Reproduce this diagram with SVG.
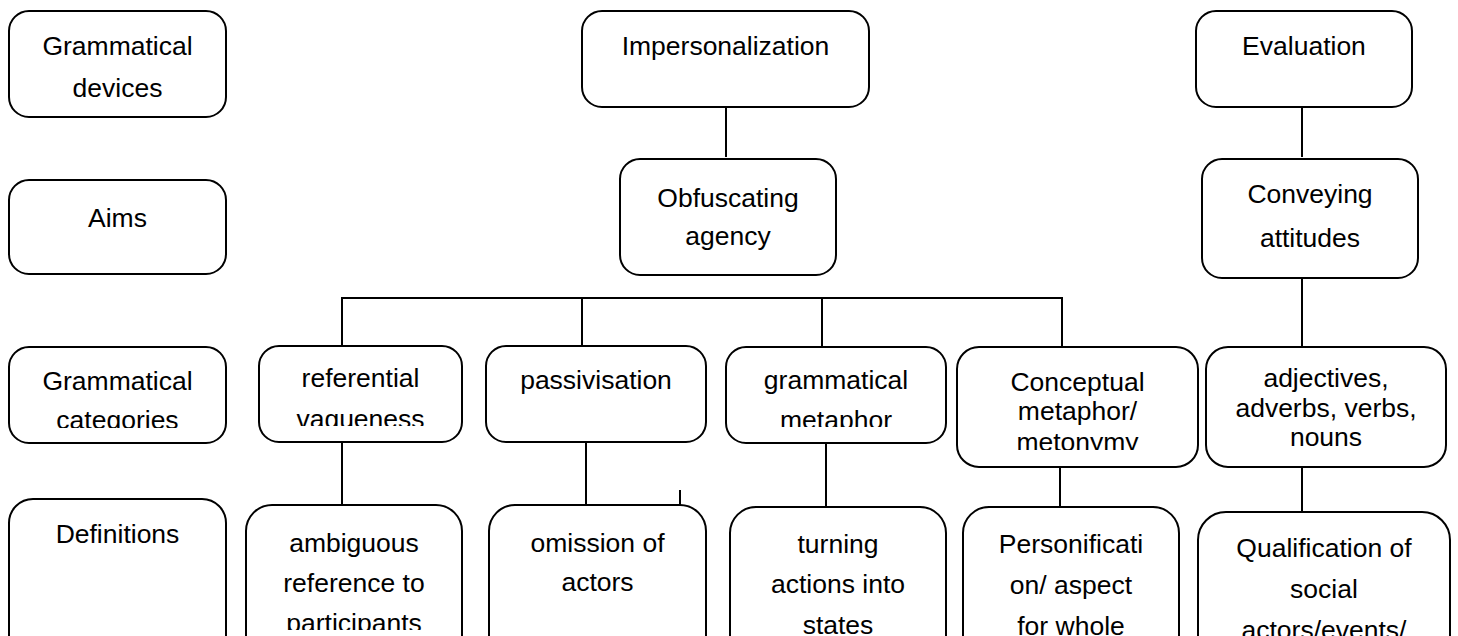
<svg xmlns="http://www.w3.org/2000/svg" width="1458" height="636" viewBox="0 0 1458 636">
<style>
.box{fill:#fff;stroke:#000;stroke-width:2}
.t{font-family:"Liberation Sans",Arial,sans-serif;font-size:26.5px;fill:#000;text-anchor:middle}
.c line{stroke:#000;stroke-width:2}
</style>
<defs>
<clipPath id="cp-cat" clipPathUnits="userSpaceOnUse"><rect x="9" y="347" width="217" height="81"/></clipPath>
<clipPath id="cp-ref" clipPathUnits="userSpaceOnUse"><rect x="259" y="346" width="203" height="80"/></clipPath>
<clipPath id="cp-gm" clipPathUnits="userSpaceOnUse"><rect x="726" y="347" width="220" height="80"/></clipPath>
<clipPath id="cp-con" clipPathUnits="userSpaceOnUse"><rect x="957" y="347" width="241" height="103"/></clipPath>
<clipPath id="cp-amb" clipPathUnits="userSpaceOnUse"><rect x="246" y="505" width="216" height="125"/></clipPath>
</defs>
<rect width="1458" height="636" fill="#fff"/>

<g id="connectors" class="c">
<line x1="726" y1="107" x2="726" y2="157"/>
<line x1="1302" y1="107" x2="1302" y2="157"/>
<line x1="1302" y1="276" x2="1302" y2="347"/>
<line x1="341" y1="298" x2="1063" y2="298"/>
<line x1="342" y1="298" x2="342" y2="346"/>
<line x1="582" y1="298" x2="582" y2="346"/>
<line x1="822" y1="298" x2="822" y2="347"/>
<line x1="1062" y1="298" x2="1062" y2="347"/>
<line x1="342" y1="442" x2="342" y2="505"/>
<line x1="586" y1="442" x2="586" y2="505"/>
<line x1="680" y1="490" x2="680" y2="505"/>
<line x1="826" y1="443" x2="826" y2="507"/>
<line x1="1060" y1="467" x2="1060" y2="507"/>
<line x1="1302" y1="467" x2="1302" y2="512"/>
</g>

<g id="label-devices"><rect class="box" x="9" y="11" width="217" height="106" rx="20"/>
<text class="t" x="117.5" y="55">Grammatical</text><text class="t" x="117.5" y="97">devices</text></g>
<g id="label-aims"><rect class="box" x="9" y="180" width="217" height="94" rx="20"/>
<text class="t" x="117.5" y="227">Aims</text></g>
<g id="label-categories"><rect class="box" x="9" y="347" width="217" height="96" rx="20"/>
<g clip-path="url(#cp-cat)"><text class="t" x="117.5" y="390">Grammatical</text><text class="t" x="117.5" y="429">categories</text></g></g>
<g id="label-definitions"><rect class="box" x="9" y="499" width="217" height="180" rx="24"/>
<text class="t" x="117.5" y="543">Definitions</text></g>

<g id="impersonalization"><rect class="box" x="582" y="11" width="287" height="96" rx="20"/>
<text class="t" x="725.5" y="55">Impersonalization</text></g>
<g id="obfuscating"><rect class="box" x="620" y="159" width="216" height="116" rx="20"/>
<text class="t" x="728" y="207">Obfuscating</text><text class="t" x="728" y="245">agency</text></g>

<g id="referential"><rect class="box" x="259" y="346" width="203" height="96" rx="20"/>
<g clip-path="url(#cp-ref)"><text class="t" x="360.5" y="387">referential</text><text class="t" x="360.5" y="428">vagueness</text></g></g>
<g id="passivisation"><rect class="box" x="486" y="346" width="220" height="96" rx="20"/>
<text class="t" x="596" y="389">passivisation</text></g>
<g id="grammatical-metaphor"><rect class="box" x="726" y="347" width="220" height="96" rx="20"/>
<g clip-path="url(#cp-gm)"><text class="t" x="836" y="389">grammatical</text><text class="t" x="836" y="429">metaphor</text></g></g>
<g id="conceptual"><rect class="box" x="957" y="347" width="241" height="120" rx="22"/>
<g clip-path="url(#cp-con)"><text class="t" x="1077.5" y="391">Conceptual</text><text class="t" x="1077.5" y="420">metaphor/</text><text class="t" x="1077.5" y="451">metonymy</text></g></g>

<g id="ambiguous"><rect class="box" x="246" y="505" width="216" height="180" rx="26"/>
<g clip-path="url(#cp-amb)"><text class="t" x="354" y="552">ambiguous</text><text class="t" x="354" y="592">reference to</text><text class="t" x="354" y="632">participants</text></g></g>
<g id="omission"><rect class="box" x="489" y="505" width="217" height="180" rx="26"/>
<text class="t" x="597.5" y="552">omission of</text><text class="t" x="597.5" y="591">actors</text></g>
<g id="turning"><rect class="box" x="730" y="507" width="216" height="180" rx="26"/>
<text class="t" x="838" y="553">turning</text><text class="t" x="838" y="593">actions into</text><text class="t" x="838" y="634">states</text></g>
<g id="personification"><rect class="box" x="963" y="507" width="216" height="180" rx="26"/>
<text class="t" x="1071" y="553">Personificati</text><text class="t" x="1071" y="594">on/ aspect</text><text class="t" x="1071" y="635">for whole</text></g>

<g id="evaluation"><rect class="box" x="1196" y="11" width="216" height="96" rx="20"/>
<text class="t" x="1304" y="55">Evaluation</text></g>
<g id="conveying"><rect class="box" x="1202" y="159" width="216" height="119" rx="20"/>
<text class="t" x="1310" y="203">Conveying</text><text class="t" x="1310" y="247">attitudes</text></g>
<g id="adjectives"><rect class="box" x="1206" y="347" width="240" height="120" rx="22"/>
<text class="t" x="1326" y="387">adjectives,</text><text class="t" x="1326" y="417">adverbs, verbs,</text><text class="t" x="1326" y="446">nouns</text></g>
<g id="qualification"><rect class="box" x="1198" y="512" width="252" height="180" rx="28"/>
<text class="t" x="1324" y="557">Qualification of</text><text class="t" x="1324" y="598">social</text><text class="t" x="1324" y="639">actors/events/</text></g>
</svg>
